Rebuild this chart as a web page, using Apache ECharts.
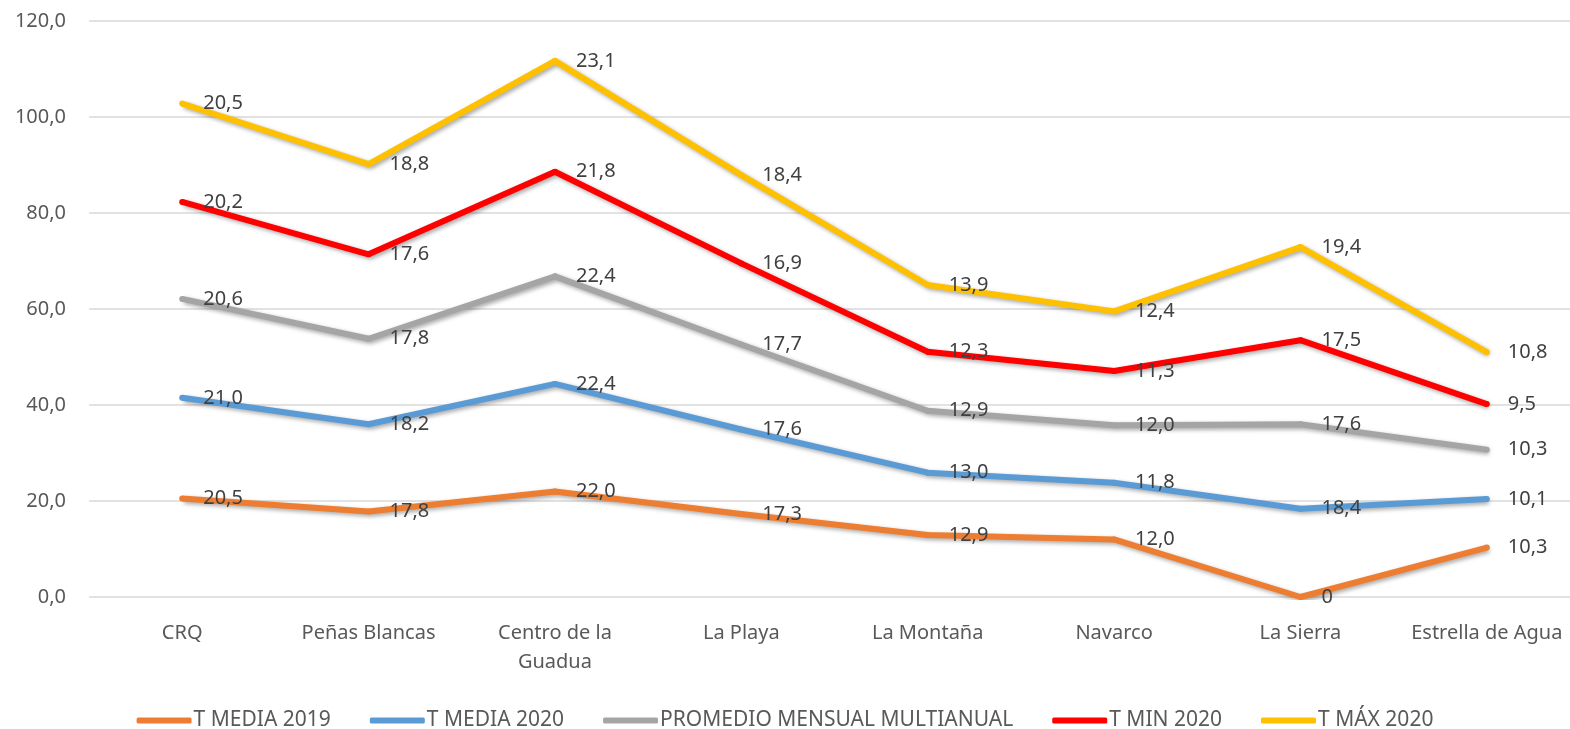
<!DOCTYPE html>
<html>
<head>
<meta charset="utf-8">
<script src="https://cdn.jsdelivr.net/npm/echarts@6/dist/echarts.min.js"></script>
<style>
  html, body { margin: 0; padding: 0; background: #fff; }
  #chart { width: 1570px; height: 729px; }
</style>
</head>
<body>
<div id="chart"></div>
<script>
// estaciones
const categories = ["CRQ", "Peñas Blancas", "Centro de la\nGuadua", "La Playa", "La Montaña", "Navarco", "La Sierra", "Estrella de Agua"];

// valores por serie (apiladas)
const tMedia2019 = [20.5, 17.8, 22.0, 17.3, 12.9, 12.0, 0, 10.3];
const tMedia2020 = [21.0, 18.2, 22.4, 17.6, 13.0, 11.8, 18.4, 10.1];
const promedio = [20.6, 17.8, 22.4, 17.7, 12.9, 12.0, 17.6, 10.3];
const tMin2020 = [20.2, 17.6, 21.8, 16.9, 12.3, 11.3, 17.5, 9.5];
const tMax2020 = [20.5, 18.8, 23.1, 18.4, 13.9, 12.4, 19.4, 10.8];

const seriesNames = ["T MEDIA 2019", "T MEDIA 2020", "PROMEDIO MENSUAL MULTIANUAL", "T MIN 2020", "T MÁX 2020"];
const seriesData = [tMedia2019, tMedia2020, promedio, tMin2020, tMax2020];
const colors = ["#ED7D31", "#5B9BD5", "#A5A5A5", "#FF0000", "#FFC000"];

const fontFamily = "Noto Sans";

function fmt(v) {
  if (v === 0) return "0";
  return v.toFixed(1).replace(".", ",");
}

const chart = echarts.init(document.getElementById("chart"));

const option = {
  animation: false,
  color: colors,
  grid: {
    left: 89,
    width: 1491,
    top: 21,
    bottom: 132,
    outerBoundsMode: "none",
  },
  legend: {
    bottom: -7,
    left: "center",
    icon: "roundRect",
    itemWidth: 55,
    itemHeight: 6,
    itemGap: 39,
    textStyle: { fontFamily: fontFamily, fontSize: 21, color: "#595959", padding: [0, 0, 0, -3] },
    data: seriesNames,
  },
  xAxis: {
    type: "category",
    data: categories,
    boundaryGap: true,
    axisLine: { show: false },
    axisTick: { show: false },
    axisLabel: {
      interval: 0,
      margin: 22,
      fontFamily: fontFamily,
      fontSize: 20,
      lineHeight: 29,
      color: "#595959",
    },
  },
  yAxis: {
    type: "value",
    min: 0,
    max: 120,
    interval: 20,
    axisLine: { show: false },
    axisTick: { show: false },
    splitLine: { lineStyle: { color: "#D9D9D9", width: 1.5 } },
    axisLabel: {
      margin: 23,
      fontFamily: fontFamily,
      fontSize: 20,
      color: "#595959",
      formatter: (v) => v.toFixed(1).replace(".", ","),
    },
  },
  series: seriesNames.map((name, i) => ({
    name: name,
    type: "line",
    stack: "total",
    data: seriesData[i],
    symbol: "circle",
    symbolSize: 6,
    lineStyle: {
      width: 6,
      color: colors[i],
      shadowColor: "rgba(0,0,0,0.35)",
      shadowBlur: 4,
      shadowOffsetX: 2,
      shadowOffsetY: 2,
    },
    itemStyle: { color: colors[i] },
    label: {
      show: true,
      position: "right",
      distance: 18,
      fontFamily: fontFamily,
      fontSize: 20,
      color: "#404040",
      formatter: (p) => fmt(p.value),
    },
    z: 2 + i,
  })),
};

chart.setOption(option);
</script>
</body>
</html>
